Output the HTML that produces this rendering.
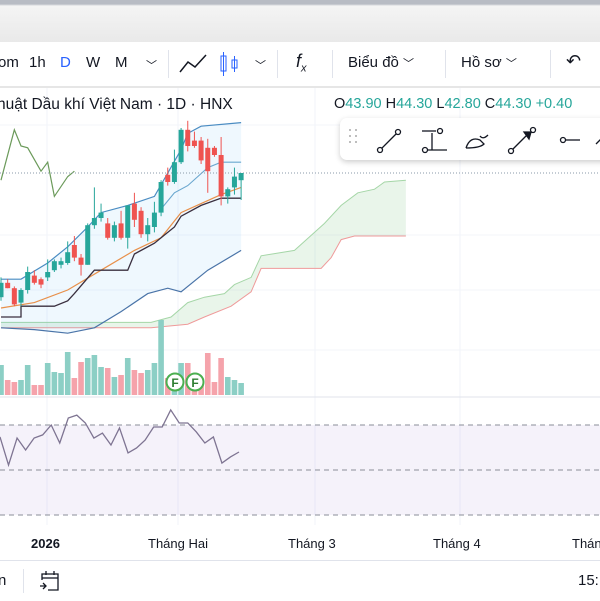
<!DOCTYPE html>
<html><head><meta charset="utf-8"><style>
body{margin:0;width:600px;height:600px;overflow:hidden;background:#fff;font-family:"Liberation Sans","Noto Sans CJK JP",sans-serif}
#top{position:absolute;left:0;top:0;width:600px;height:42px;background:linear-gradient(#b8bcc4 0,#b8bcc4 4px,#f4f4f4 6px,#e9e9e9 42px)}
#tb{position:absolute;left:0;top:42px;width:600px;height:44px;background:#fff;border-bottom:2px solid #e6e6e6}
.t{position:absolute;top:12px;font-size:15px;color:#131722;white-space:nowrap}
.sep{position:absolute;top:8px;width:1px;height:28px;background:#e0e3eb}
svg{position:absolute;left:0;top:0}
</style></head><body>
<div id="top"></div>
<div id="tb">
<span class="t" style="left:-2px">om</span>
<span class="t" style="left:29px">1h</span>
<span class="t" style="left:60px;color:#2962ff">D</span>
<span class="t" style="left:86px">W</span>
<span class="t" style="left:115px">M</span>
<span class="t" style="left:146px;font-size:11px;top:15px">﹀</span>
<div class="sep" style="left:168px"></div>
<svg style="left:178px;top:10px" width="30" height="24"><polyline points="2,20 10,10 17,15 28,3" fill="none" stroke="#131722" stroke-width="1.5"/></svg>
<svg style="left:218px;top:8px" width="24" height="28"><rect x="3" y="6" width="5" height="15" fill="none" stroke="#2962ff"/><line x1="5.5" y1="2" x2="5.5" y2="26" stroke="#2962ff"/><rect x="14" y="10" width="5" height="8" fill="none" stroke="#2962ff"/><line x1="16.5" y1="6" x2="16.5" y2="22" stroke="#2962ff"/></svg>
<span class="t" style="left:255px;font-size:11px;top:15px">﹀</span>
<div class="sep" style="left:277px"></div>
<span class="t" style="left:296px;font-style:italic;font-size:18px;top:9px">f<sub style="font-size:11px">x</sub></span>
<div class="sep" style="left:332px"></div>
<span class="t" style="left:348px">Biểu đồ <span style="font-size:11px">﹀</span></span>
<div class="sep" style="left:445px"></div>
<span class="t" style="left:461px">Hồ sơ <span style="font-size:11px">﹀</span></span>
<div class="sep" style="left:550px"></div>
<span class="t" style="left:566px;font-size:18px;top:9px">↶</span>
</div>

<svg id="chart" width="600" height="600" style="top:0"></svg>

<div style="position:absolute;left:-3px;top:96px;font-size:15.5px;color:#131722;white-space:nowrap">huật Dầu khí Việt Nam · 1D · HNX</div>
<div style="position:absolute;left:334px;top:96px;font-size:14.5px;color:#131722;white-space:nowrap">O<span style="color:#26a69a">43.90</span> H<span style="color:#26a69a">44.30</span> L<span style="color:#26a69a">42.80</span> C<span style="color:#26a69a">44.30</span> <span style="color:#26a69a">+0.40</span></div>

<div style="position:absolute;left:340px;top:118px;width:280px;height:42px;background:#fff;border-radius:7px;box-shadow:0 2px 6px rgba(0,0,0,.2)">
<svg width="280" height="42">
<g fill="#aaa"><circle cx="10" cy="12" r="1"/><circle cx="16" cy="12" r="1"/><circle cx="10" cy="18" r="1"/><circle cx="16" cy="18" r="1"/><circle cx="10" cy="24" r="1"/><circle cx="16" cy="24" r="1"/></g>
<g fill="none" stroke="#131722" stroke-width="1.3">
<line x1="41" y1="31" x2="57" y2="15"/><circle cx="40" cy="32" r="2.5" fill="#fff"/><circle cx="58" cy="14" r="2.5" fill="#fff"/>
<line x1="82" y1="13" x2="96" y2="13"/><line x1="92" y1="15" x2="92" y2="32"/><line x1="88" y1="32" x2="107" y2="32"/><circle cx="85" cy="32" r="2.5" fill="#fff"/><circle cx="100" cy="13" r="2.5" fill="#fff"/>
<path d="M126 30 Q130 18 140 22 L144 26 Q140 30 126 30 M140 18 Q143 22 148 17"/>
<line x1="172" y1="32" x2="188" y2="16"/><circle cx="171" cy="33" r="2.5" fill="#fff"/><circle cx="193" cy="12" r="2.5" fill="#fff"/><path d="M184 14 L191 14 L189 21 Z" fill="#131722"/>
<circle cx="223" cy="22" r="2.5" fill="#fff"/><line x1="226" y1="22" x2="240" y2="22"/>
<line x1="256" y1="26" x2="262" y2="20"/>
</g></svg></div>

<div style="position:absolute;left:0;top:528px;width:600px;height:30px;font-size:13px;color:#131722;white-space:nowrap">
<span style="position:absolute;left:31px;top:8px;font-weight:bold">2026</span>
<span style="position:absolute;left:148px;top:8px">Tháng Hai</span>
<span style="position:absolute;left:288px;top:8px">Tháng 3</span>
<span style="position:absolute;left:433px;top:8px">Tháng 4</span>
<span style="position:absolute;left:572px;top:8px">Tháng 5</span>
</div>
<div style="position:absolute;left:0;top:560px;width:600px;height:40px;border-top:1px solid #e0e3eb">
<span style="position:absolute;left:-2px;top:11px;font-size:15px;color:#131722">n</span>
<div style="position:absolute;left:23px;top:8px;width:1px;height:24px;background:#e0e3eb"></div>
<svg style="left:38px;top:8px" width="24" height="24"><g fill="none" stroke="#131722" stroke-width="1.3"><path d="M4 11 V5 H20 V21 H10"/><line x1="4" y1="9" x2="20" y2="9"/><line x1="8" y1="2" x2="8" y2="6"/><line x1="16" y1="2" x2="16" y2="6"/><path d="M2 17 H8 M5 14 L8 17 L5 20"/></g></svg>
<span style="position:absolute;left:578px;top:11px;font-size:15px;color:#131722">15:</span>
</div>

<script>
const opens =[37.4,38.2,37.9,37.1,37.8,38.6,38.4,38.5,38.9,39.2,39.3,40.3,39.6,39.2,41.4,41.8,41.5,40.7,41.5,40.7,42.6,42.2,40.9,41.3,42.1,44.2,43.8,44.9,46.7,46.1,46.1,45.7,45.7,45.3,43.0,43.5,43.9];
const highs =[38.5,38.4,38.0,37.9,39.1,38.9,38.5,39.5,39.5,39.6,40.5,40.8,39.8,41.5,43.5,42.6,41.8,41.6,42.2,42.5,43.2,42.4,41.8,42.7,43.9,44.6,45.6,46.8,47.2,46.6,46.3,46.2,45.8,46.3,43.5,44.6,44.3];
const lows  =[37.2,37.9,36.9,36.9,37.6,38.1,37.9,38.3,38.8,39.0,39.2,39.4,38.6,39.2,41.2,41.6,40.6,40.5,40.6,40.1,41.3,40.7,40.5,41.0,41.9,43.6,43.7,44.8,45.5,45.7,44.8,43.2,45.2,42.5,42.6,43.1,42.8];
const closes=[38.2,37.9,37.0,37.8,38.8,38.2,38.1,38.8,39.4,39.4,39.9,39.6,39.2,41.4,41.8,42.1,40.7,41.4,40.7,42.5,41.7,40.9,41.4,42.1,43.8,43.8,44.9,46.7,45.8,45.8,45.0,44.4,45.3,43.0,43.4,44.1,44.3];
const volumes=[30,15,13,15,30,10,10,32,23,22,43,17,33,37,40,28,27,18,20,37,25,22,25,32,75,17,22,32,32,15,15,42,13,37,18,15,12];
const bbUpper=[38.4,38.4,39.3,40.2,41.3,42.1,42.5,43.0,44.3,45.6,46.5,46.9,47.1];
const bbUpperIdx=[0,3,7,10,13,15,19,23,25,27,28,30,36];
const bbMid=[42.3,43.2,43.6,44.6,44.9,44.9];
const bbMidIdx=[24,26,28,31,33,36];
const bbLower=[35.7,35.6,35.4,35.7,36.6,37.6,37.9,37.7,38.9,40.0];
const bbLowerIdx=[0,5,10,14,18,22,25,27,31,36];
const maLine=[36.8,37.1,37.8,38.9,40.0,40.7,42.1,42.6,43.1,43.5];
const maIdx=[0,5,10,15,20,24,27,30,33,36];
const kijun=[36.3,36.3,36.9,36.9,37.2,37.6,38.9,38.9,39.8,40.4,40.7,41.3,41.9,42.5,42.9,42.9];
const kijunIdx=[0,3,3,8,10,11,14,19,20,23,24,26,27,30,33,36];
const chikou=[43.9,46.7,45.8,45.7,44.4,44.9,43.0,44.1,44.4];
const chikouIdx=[0,2,3,4,6,7,8,10,11];
const spanA=[36.0,36.0,36.3,37.1,37.4,37.6,38.1,38.5,39.7,40.0,41.0,41.5,42.5,43.2,43.4,43.8,43.9];
const spanAIdx=[0,22.5,25.5,28,30.5,33.5,35,37.5,39,44,47,48.5,51,53.5,56,57.5,60.7];
const spanB=[35.7,35.7,35.9,36.3,36.9,37.7,39.0,39.0,39.6,40.6,40.8,40.8];
const spanBIdx=[0,22.5,28,30.5,34.5,37.5,39,48,49.5,51,53,60.7];
const rsi=[64.7,52.2,64.2,58.9,64.2,65.6,70,62,73.1,74.4,70.9,64.2,66.4,61.1,68.7,57.6,59.8,63.3,69.1,69.1,76.7,70.9,70.9,66.9,62,64.7,53.1,55.8,58];
const rsiLevels=[70,50,30];

const NS="http://www.w3.org/2000/svg",svg=document.getElementById('chart');
const step=6.67;
const xS=i=>1+i*step;
const yS=p=>173+(44.3-p)*18;
const vS=v=>395-v;
const rS=v=>425+(70-v)*2.25;
function mk(tag,attrs,parent){const e=document.createElementNS(NS,tag);for(const k in attrs)e.setAttribute(k,attrs[k]);(parent||svg).appendChild(e);return e;}
const line=(vals,idx)=>vals.map((v,i)=>xS(idx[i])+','+yS(v)).join(' ');
const lineRev=(vals,idx)=>vals.map((v,i)=>xS(idx[i])+','+yS(v)).reverse().join(' ');

const grid=mk('g',{});


[47,178,315,460].forEach(x=>mk('line',{x1:x,y1:88,x2:x,y2:525,stroke:'#f0f3fa'},grid));
[125,235,290,350].forEach(y=>mk('line',{x1:0,y1:y,x2:600,y2:y,stroke:'#f3f5fa'},grid));
mk('line',{x1:0,y1:397,x2:600,y2:397,stroke:'#e0e3eb'});

const cloud=mk('polygon',{fill:'rgba(76,175,80,0.12)',points:line(spanA,spanAIdx)+' '+lineRev(spanB,spanBIdx)});


const sa=mk('polyline',{fill:'none',stroke:'#a5d6a7',points:line(spanA,spanAIdx)});


const sb=mk('polyline',{fill:'none',stroke:'#ef9a9a',points:line(spanB,spanBIdx)});



const bbf=mk('polygon',{fill:'rgba(33,150,243,0.07)',points:line(bbUpper,bbUpperIdx)+' '+lineRev(bbLower,bbLowerIdx)});


const bu=mk('polyline',{fill:'none',stroke:'#4a8cc2','stroke-width':1.2,points:line(bbUpper,bbUpperIdx)});


const bm=mk('polyline',{fill:'none',stroke:'#6aa7cf','stroke-width':1.1,points:line(bbMid,bbMidIdx)});


const bl=mk('polyline',{fill:'none',stroke:'#4a74a8','stroke-width':1.2,points:line(bbLower,bbLowerIdx)});



const ma=mk('polyline',{fill:'none',stroke:'#e8904a','stroke-width':1.2,points:line(maLine,maIdx)});


const kj=mk('polyline',{fill:'none',stroke:'#3a2f3f','stroke-width':1.3,points:line(kijun,kijunIdx)});


const ch=mk('polyline',{fill:'none',stroke:'#6b9a5a','stroke-width':1.2,points:line(chikou,chikouIdx)});



mk('line',{x1:0,y1:yS(closes[closes.length-1]),x2:600,y2:yS(closes[closes.length-1]),stroke:'#8a9aa8','stroke-dasharray':'1 2'});

volumes.forEach((v,i)=>{const up=closes[i]>=opens[i];
 const r=mk('rect',{x:xS(i)-2.8,y:vS(v),width:5.6,height:v,fill:up?'#8ccfc5':'#f5a3ab'});
 
 });
[175,195].forEach(x=>{const g=mk('g',{});
 
 
 mk('circle',{cx:x,cy:382,r:8.5,fill:'#fff',stroke:'#4caf50','stroke-width':2},g);
 const t=mk('text',{x:x,y:387,'text-anchor':'middle','font-size':12,'font-weight':'bold',fill:'#2e7d32','font-family':'Liberation Sans'},g);t.textContent='F';});

opens.forEach((o,i)=>{const c=closes[i],up=c>=o,col=up?'#26a69a':'#ef5350';
 const g=mk('g',{});
 
 
 mk('line',{x1:xS(i),x2:xS(i),y1:yS(highs[i]),y2:yS(lows[i]),stroke:col},g);
 const t=yS(Math.max(o,c)),b=yS(Math.min(o,c));
 mk('rect',{x:xS(i)-2.5,y:t,width:5,height:Math.max(1,b-t),fill:col},g);});

const band=mk('rect',{x:0,y:rS(70),width:600,height:rS(30)-rS(70),fill:'rgba(126,87,194,0.08)'});


rsiLevels.forEach(l=>{const ln=mk('line',{x1:0,x2:600,y1:rS(l),y2:rS(l),stroke:'#8a8e98','stroke-dasharray':'5 4'});
 
 });
const rl=mk('polyline',{fill:'none',stroke:'#7e7492','stroke-width':1.3,points:rsi.map((v,i)=>(i*239/(rsi.length-1))+','+rS(v)).join(' ')});


</script>
</body></html>
